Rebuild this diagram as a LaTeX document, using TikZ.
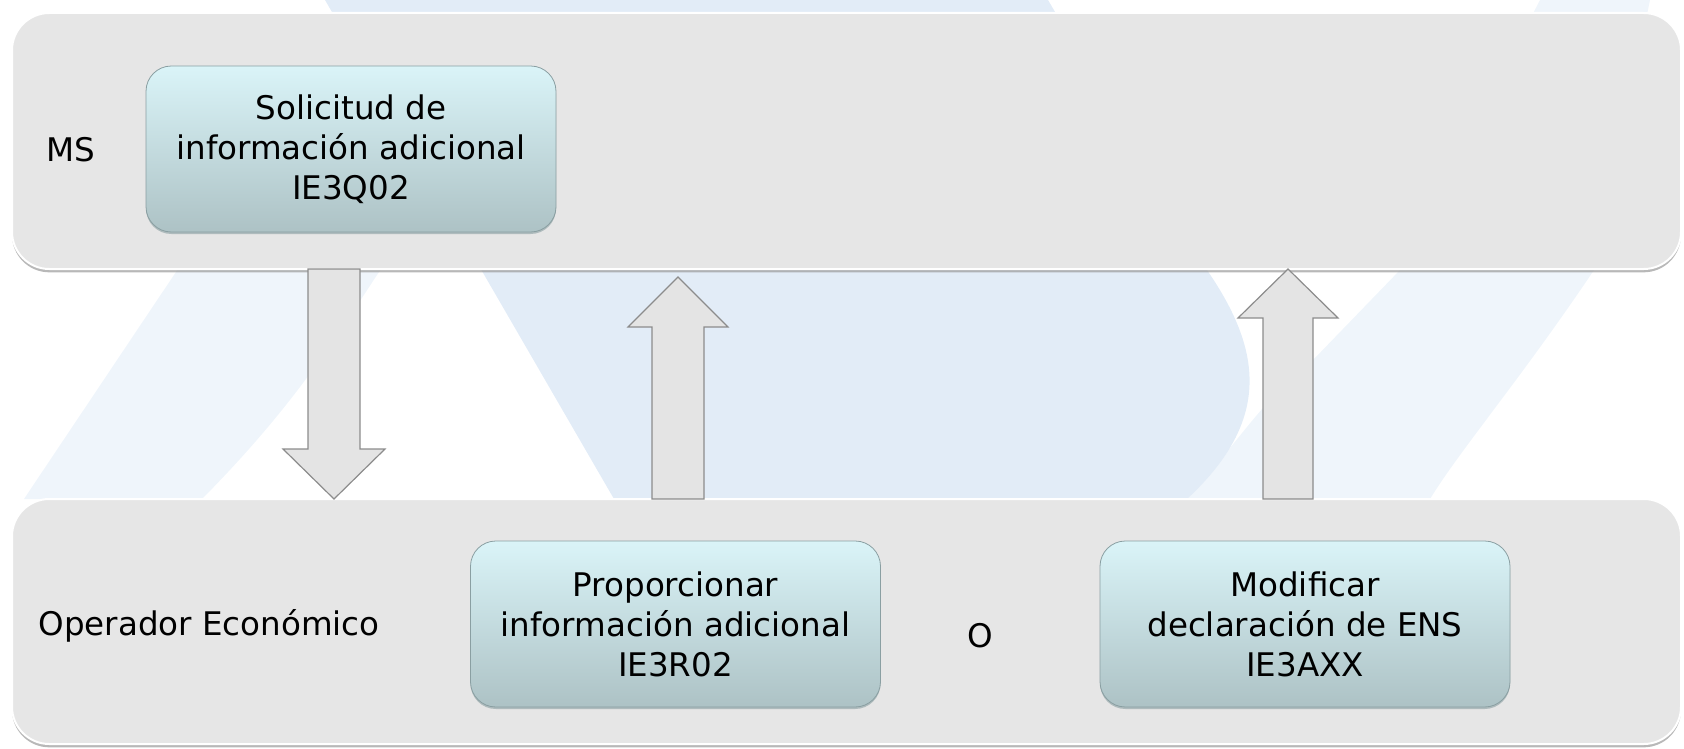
\documentclass[tikz,border=0pt]{standalone}
\usepackage{fontspec}
\setmainfont{DejaVu Sans}
\usetikzlibrary{shadows}

\definecolor{bandgray}{HTML}{E6E6E6}
\definecolor{bandshade}{HTML}{9A9A9A}
\definecolor{boxtop}{HTML}{DAF4F8}
\definecolor{boxbot}{HTML}{ADC2C5}
\definecolor{boxedge}{HTML}{8A9FA2}
\definecolor{arrfill}{HTML}{E4E4E4}
\definecolor{arredge}{HTML}{8C8C8C}
\definecolor{wmdark}{HTML}{E2ECF7}
\definecolor{wmlight}{HTML}{EFF5FB}

\newcommand{\boxfont}{\fontsize{24.4pt}{30pt}\selectfont}

\tikzset{every picture/.style={line width=0.75pt}}
\tikzset{
  band/.style={fill=bandgray, draw=white, line width=1.5pt, rounded corners=28pt,
    minimum width=1251.75pt, inner sep=0pt,
    drop shadow={shadow xshift=0pt, shadow yshift=-2.5pt, opacity=0.7, fill=bandshade}},
  msgbox/.style={top color=boxtop, bottom color=boxbot, draw=boxedge, line width=0.6pt,
    rounded corners=19pt, minimum width=307.5pt, minimum height=124.5pt,
    align=center, font=\boxfont,
    drop shadow={shadow xshift=0pt, shadow yshift=-1.5pt, opacity=0.6, fill=boxedge}},
  lbl/.style={font=\boxfont, inner sep=0pt},
  fatarrow/.style={fill=arrfill, draw=arredge, line width=0.9pt, line join=miter}
}

\begin{document}
\begin{tikzpicture}[x=0.75pt,y=0.75pt,yscale=-1,xscale=1]
\useasboundingbox (0,0) rectangle (1684,749);
%Shape: watermark, faint right stroke
\fill[wmlight] (1540,0) -- (1650,0) -- (1594,270) .. controls (1520,380) and (1460,450) .. (1430,499) -- (1187,499) .. controls (1240,440) and (1262,400) .. (1313,360) -- (1400,270) -- cycle ;
%Shape: watermark, dark middle
\fill[wmdark] (325,0) -- (1048,0) -- (1207,270) .. controls (1262,350) and (1272,420) .. (1187,499) -- (614,499) -- cycle ;
%Shape: watermark, faint left stroke
\fill[wmlight] (184,260) -- (387,260) .. controls (340,330) and (300,400) .. (202,499) -- (24,499) -- cycle ;

%Shape: Rounded band MS
\node (msband) [band, minimum height=192pt] at (846.5,141) {};
%Shape: Rounded band Operador
\node (opband) [band, minimum height=183.75pt] at (846.5,621.5) {};

% Text Node
\draw (351,149) node (solic) [msgbox] {Solicitud de\\información adicional\\IE3Q02};
% Text Node
\draw (675.5,624) node (propor) [msgbox] {Proporcionar\\información adicional\\IE3R02};
% Text Node
\draw (1305,624) node (modif) [msgbox] {Modificar\\declaración de ENS\\IE3AXX};

% Text Node
\draw (46,150) node (ms) [lbl, anchor=west] {MS};
% Text Node
\draw (38,626) node (oper) [lbl, anchor=west] {Operador Económico};
% Text Node
\draw (980,636) node (alt) [lbl] {O};

%Down Arrow
\coordinate (reqA) at (334,269);
\coordinate (reqB) at (334,499);
\draw [fatarrow] (reqA) ++(-26,0) -- ++(52,0) -- ++(0,180) -- ++(25,0) -- (reqB) -- ++(-51,-50) -- ++(25,0) -- cycle ;
%Up Arrow
\coordinate (repA) at (678,499);
\coordinate (repB) at (678,277);
\draw [fatarrow] (repA) ++(-26,0) -- ++(0,-172) -- ++(-24,0) -- (repB) -- ++(50,50) -- ++(-24,0) -- ++(0,172) -- cycle ;
%Up Arrow
\coordinate (modA) at (1288,499);
\coordinate (modB) at (1288,269);
\draw [fatarrow] (modA) ++(-25,0) -- ++(0,-181) -- ++(-25,0) -- (modB) -- ++(50,49) -- ++(-25,0) -- ++(0,181) -- cycle ;

\end{tikzpicture}
\end{document}
